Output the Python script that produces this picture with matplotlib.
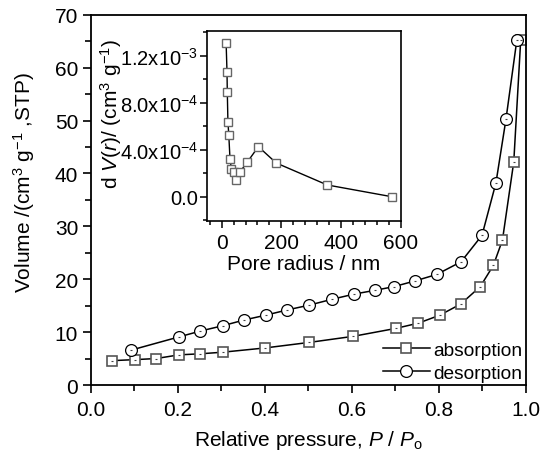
import matplotlib
matplotlib.use("Agg")
from matplotlib import pyplot as plt
from matplotlib.ticker import MultipleLocator, FuncFormatter

plt.rcParams["font.family"] = ["Liberation Sans", "DejaVu Sans"]
plt.rcParams["mathtext.fontset"] = "custom"
plt.rcParams["mathtext.rm"] = "Liberation Sans"
plt.rcParams["mathtext.it"] = "Liberation Sans:italic"

# isotherm, adsorption branch
ads_p = [0.048, 0.102, 0.150, 0.203, 0.252, 0.303, 0.400, 0.502, 0.603,
         0.701, 0.753, 0.802, 0.850, 0.895, 0.925, 0.946, 0.972, 0.988]
ads_v = [4.6, 4.8, 5.0, 5.7, 5.9, 6.2, 7.0, 8.05, 9.2,
         10.7, 11.7, 13.2, 15.3, 18.6, 22.6, 27.4, 42.2, 65.3]

# isotherm, desorption branch
des_p = [0.979, 0.954, 0.931, 0.899, 0.851, 0.795, 0.746, 0.697, 0.653,
         0.606, 0.554, 0.502, 0.452, 0.402, 0.353, 0.303, 0.252, 0.203, 0.093]
des_v = [65.2, 50.2, 38.2, 28.3, 23.3, 20.9, 19.7, 18.6, 17.9,
         17.2, 16.2, 15.1, 14.2, 13.2, 12.3, 11.2, 10.2, 9.1, 6.6]

# pore size distribution (inset)
pore_r = [15, 18, 19, 21, 24, 28, 33, 40, 47, 61, 86, 123, 183, 354, 570]
pore_dv = [1.31e-3, 1.06e-3, 8.9e-4, 6.4e-4, 5.25e-4, 3.2e-4, 2.33e-4,
           2.08e-4, 1.45e-4, 2.1e-4, 2.95e-4, 4.26e-4, 2.87e-4, 1.0e-4, 0.03e-5]

FS = 15

fig = plt.figure(figsize=(5.4, 4.56), dpi=100)
ax = fig.add_axes([0.168, 0.1535, 0.806, 0.812])

ax.plot(ads_p, ads_v, color="black", lw=1.1, marker="s", ms=7.8,
        mfc="white", mec="#555555", mew=1.2, label="absorption")
ax.plot(des_p, des_v, color="black", lw=1.1, marker="o", ms=8.5,
        mfc="white", mec="black", mew=0.9, label="desorption")
# small dot in the middle of each marker
ax.plot(ads_p, ads_v, ls="none", marker="_", ms=1.5, mec="#444444", mew=0.8)
ax.plot(des_p, des_v, ls="none", marker="_", ms=1.5, mec="#444444", mew=0.8)

ax.set_xlim(0, 1.0)
ax.set_ylim(0, 70)
ax.xaxis.set_major_locator(MultipleLocator(0.2))
ax.xaxis.set_minor_locator(MultipleLocator(0.1))
ax.yaxis.set_major_locator(MultipleLocator(10))
ax.yaxis.set_minor_locator(MultipleLocator(5))
ax.xaxis.set_major_formatter(FuncFormatter(lambda v, p: f"{v:.1f}"))
ax.tick_params(which="both", direction="out", width=1.2, labelsize=FS, pad=3)
ax.tick_params(axis="x", pad=5)
ax.tick_params(which="major", length=6)
ax.tick_params(which="minor", length=4)
for s in ax.spines.values():
    s.set_linewidth(1.3)

ax.set_xlabel(r"Relative pressure, $\it{P}$ / $\it{P}_{\rm o}$", fontsize=FS,
              labelpad=6)
ax.set_ylabel(r"Volume /(cm$^{3}$ g$^{-1}$ ,STP)", fontsize=FS)
ax.yaxis.set_label_coords(-0.123, 0.55)

leg = ax.legend(loc="lower right", frameon=False, fontsize=13.8,
                handlelength=2.45, handletextpad=0.2, borderaxespad=0.0,
                labelspacing=0.3, bbox_to_anchor=(1.01, -0.012))

# inset
ins = fig.add_axes([0.3828, 0.5138, 0.3593, 0.4154])
ins.plot(pore_r, pore_dv, color="black", lw=1.0, marker="s", ms=5.5,
         mfc="white", mec="#666666", mew=1.0)
ins.set_xlim(-50, 600)
ins.set_ylim(-2.04e-4, 1.408e-3)
ins.xaxis.set_major_locator(MultipleLocator(200))
ins.xaxis.set_minor_locator(MultipleLocator(40))
ins.yaxis.set_major_locator(MultipleLocator(4e-4))
ins.yaxis.set_minor_locator(MultipleLocator(2e-4))


def sci_fmt(v, pos):
    if abs(v) < 1e-12:
        return "0.0"
    exp = int(f"{v:.1e}".split("e")[1])
    mant = v / 10 ** exp
    return rf"{mant:.1f}x10$^{{{exp}}}$"


ins.yaxis.set_major_formatter(FuncFormatter(sci_fmt))
ins.tick_params(which="both", direction="out", width=1.1, labelsize=14.5, pad=1)
ins.tick_params(axis="x", pad=4, labelsize=FS)
ins.tick_params(which="major", length=5)
ins.tick_params(which="minor", length=3)
for s in ins.spines.values():
    s.set_linewidth(1.2)
ins.set_xlabel("Pore radius / nm", fontsize=FS, labelpad=1)
ins.set_ylabel(r"d $\it{V}$($\it{r}$)/ (cm$^{3}$ g$^{-1}$)", fontsize=FS)
ins.yaxis.set_label_coords(-0.425, 0.57)

fig.savefig("out.png", dpi=100)
